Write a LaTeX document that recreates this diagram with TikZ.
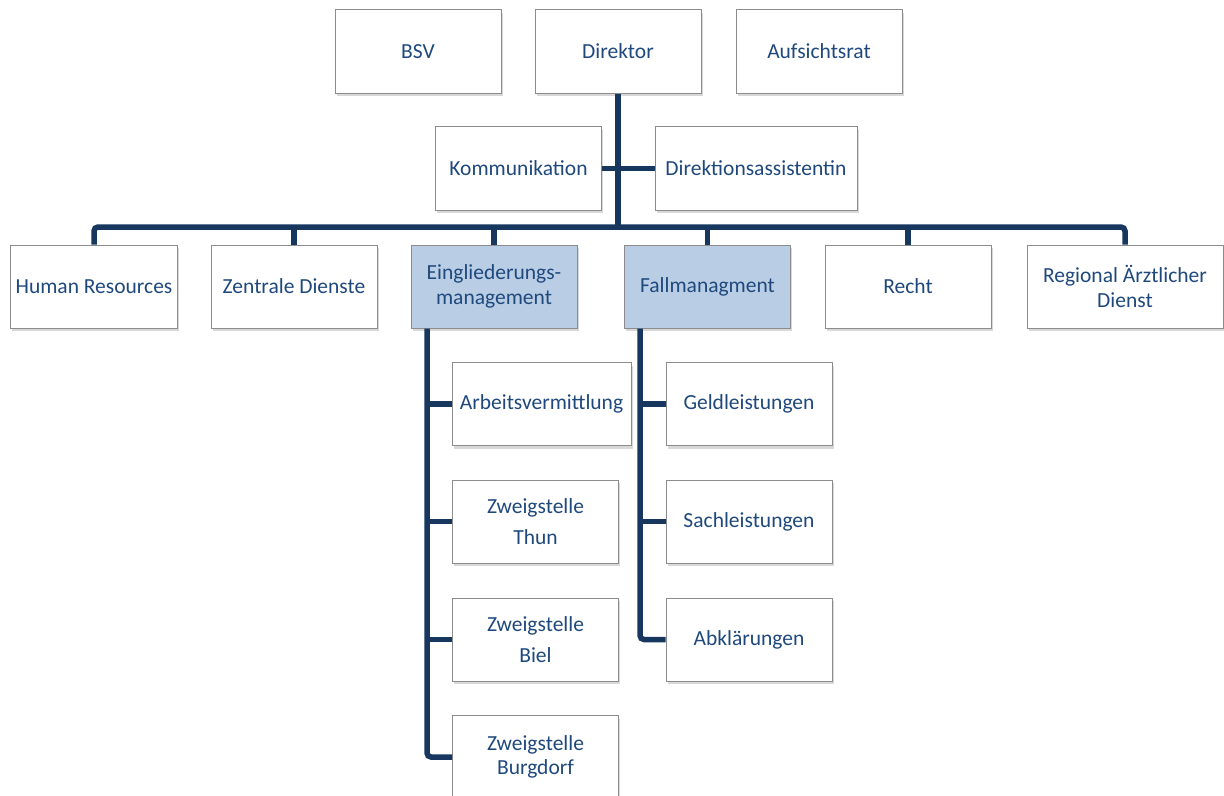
\documentclass[tikz,border=0pt]{standalone}
\usepackage{fontspec}
\setmainfont{Carlito}
\usetikzlibrary{shadows}

\definecolor{orgtext}{HTML}{1F497D}
\definecolor{orgline}{HTML}{17375E}
\definecolor{orgfill}{HTML}{B9CDE5}
\definecolor{orgborder}{HTML}{8C8C8C}

\tikzset{
  unit/.style={draw=orgborder, line width=1bp, fill=white, text=orgtext,
    align=center, inner sep=0pt, minimum width=166bp, minimum height=83bp,
    font=\fontsize{21.5bp}{24.5bp}\selectfont,
    drop shadow={shadow xshift=1.5bp, shadow yshift=-3bp, opacity=0.3}},
  keyunit/.style={unit, fill=orgfill},
  link/.style={draw=orgline, line width=5.5bp, rounded corners=4bp},
}

\begin{document}
\begin{tikzpicture}[x=1bp, y=-1bp]
        \fill[white] (0,0) rectangle (1224,796);
        \useasboundingbox (0,0) rectangle (1224,796);

        % Nodes
        \node[unit] (bsv) at (418,51.5) {BSV};
        \node[unit] (direktor) at (618,51.5) {Direktor};
        \node[unit] (aufsicht) at (819,51.5) {Aufsichtsrat};
        \node[unit] (komm) at (518.5,168.5) {Kommunikation};
        \node[unit, minimum width=202bp] (assist) at (756,168.5) {Direktionsassistentin};

        \node[unit] (hr) at (94,286.5) {Human Resources};
        \node[unit] (zd) at (294,286.5) {Zentrale Dienste};
        \node[keyunit] (eingl) at (494,286.5) {Eingliederungs-\\management};
        \node[keyunit] (fall) at (707.5,286.5) {Fallmanagment};
        \node[unit] (recht) at (908,286.5) {Recht};
        \node[unit, minimum width=196bp] (rad) at (1125,286.5) {Regional Ärztlicher\\Dienst};

        \node[unit, minimum width=179bp] (arbeit) at (541.5,404) {Arbeitsvermittlung};
        \node[unit] (thun) at (535.5,521.5) {Zweigstelle\\[7bp]Thun};
        \node[unit] (biel) at (535.5,639.5) {Zweigstelle\\[7bp]Biel};
        \node[unit] (burgdorf) at (535.5,757) {Zweigstelle\\Burgdorf};

        \node[unit] (geld) at (749,404) {Geldleistungen};
        \node[unit] (sach) at (749,521.5) {Sachleistungen};
        \node[unit] (abkl) at (749,639.5) {Abklärungen};

        \coordinate (bus) at (618,227);
        \coordinate (etrunk) at ([xshift=-67bp]eingl.south);
        \coordinate (ftrunk) at ([xshift=-67.5bp]fall.south);

        % Edges
        \draw[link] (direktor.south) -- (direktor.south |- bus);
        \draw[link] (komm.east) -- (assist.west);
        \draw[link] (hr.north) |- (bus) -| (rad.north);
        \foreach \n in {zd,eingl,fall,recht}
            \draw[link] (\n.north) -- (\n.north |- bus);

        \draw[link] (etrunk) |- (burgdorf.west);
        \foreach \n in {arbeit,thun,biel}
            \draw[link] (\n.west -| etrunk) -- (\n.west);
        \draw[link] (ftrunk) |- (abkl.west);
        \foreach \n in {geld,sach}
            \draw[link] (\n.west -| ftrunk) -- (\n.west);
    \end{tikzpicture}
\end{document}
